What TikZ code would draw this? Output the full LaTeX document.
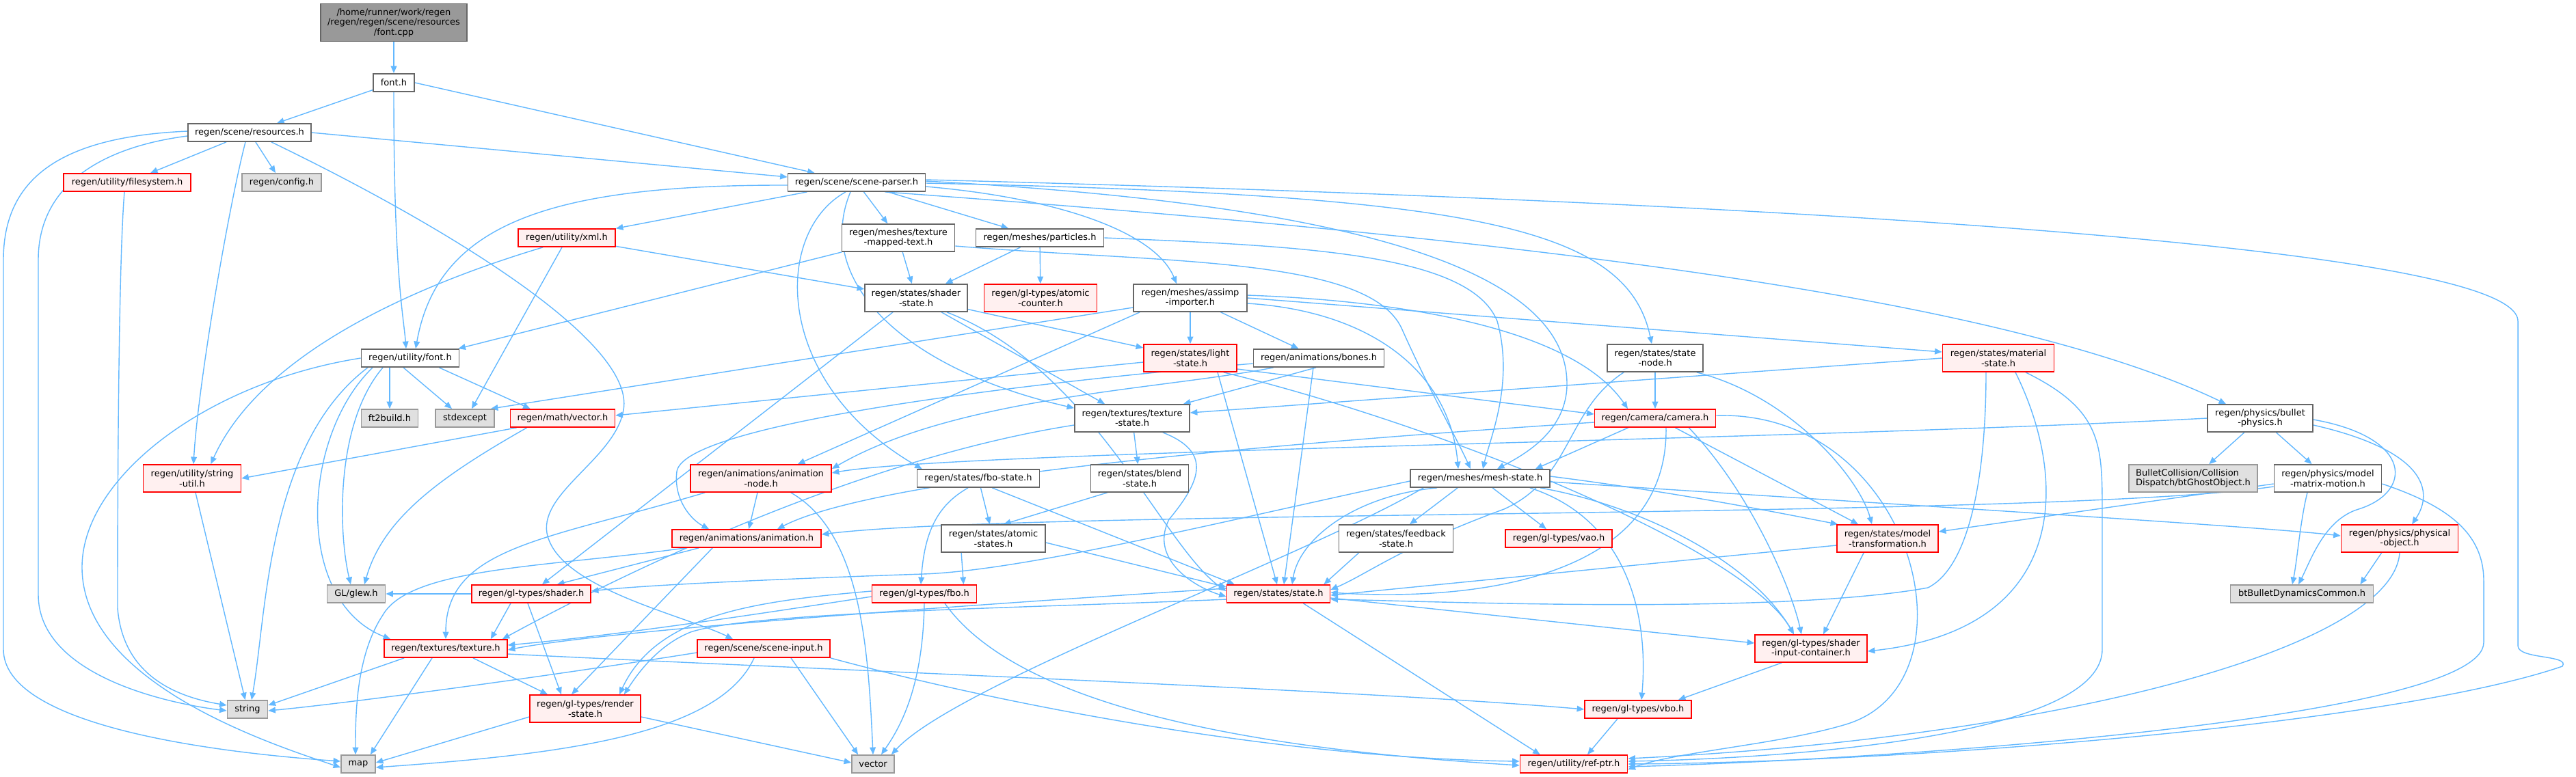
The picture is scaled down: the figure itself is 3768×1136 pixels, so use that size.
\documentclass[tikz,border=0pt]{standalone}
\usepackage{fontspec}
\setmainfont{DejaVu Sans}
\usetikzlibrary{arrows.meta,calc,backgrounds}
\definecolor{eblue}{HTML}{63B8FF}
\definecolor{redfill}{HTML}{FFF0F0}
\definecolor{extfill}{HTML}{E0E0E0}
\definecolor{grey40}{HTML}{666666}
\definecolor{grey60}{HTML}{999999}
\begin{document}
\begin{tikzpicture}[x=0.02cm,y=-0.02cm,
 nbox/.style={draw, rectangle, line width=1pt, inner sep=1pt, align=center, font=\fontsize{7.4}{8.3}\selectfont, text=black},
 wnode/.style={nbox, draw=grey40, fill=white},
 rnode/.style={nbox, draw=red, fill=redfill},
 xnode/.style={nbox, draw=grey60, fill=extfill},
 rootnode/.style={nbox, draw=grey40, fill=grey60},
 one/.style={minimum height=0.52cm},
 two/.style={minimum height=0.80cm},
 conn/.style={draw=eblue, line width=0.8pt, -{Triangle[length=6pt,width=5pt]}},
]
\useasboundingbox (0,0) rectangle (3768,1136);
% ---------------- nodes ----------------
\node[rootnode,minimum width=4.28cm,minimum height=1.10cm] (fontcpp) at (576,33) {/home/runner/work/regen\\/regen/regen/scene/resources\\/font.cpp};
\node[wnode,one,minimum width=1.20cm] (fonth) at (576,121) {font.h};
\node[wnode,one,minimum width=3.60cm] (resources) at (365,194) {regen/scene/resources.h};
\node[rnode,one,minimum width=3.72cm] (filesystem) at (186,267) {regen/utility/filesystem.h};
\node[xnode,one,minimum width=2.32cm] (config) at (412,267) {regen/config.h};
\node[wnode,one,minimum width=4.02cm] (sceneparser) at (1253,267) {regen/scene/scene-parser.h};
\node[rnode,one,minimum width=2.84cm] (xml) at (829,348) {regen/utility/xml.h};
\node[wnode,two,minimum width=3.30cm] (texmapped) at (1314,348) {regen/meshes/texture\\-mapped-text.h};
\node[wnode,one,minimum width=3.74cm] (particles) at (1521,348) {regen/meshes/particles.h};
\node[wnode,two,minimum width=3.00cm] (shaderstate) at (1340,436) {regen/states/shader\\-state.h};
\node[rnode,two,minimum width=3.30cm] (atomiccounter) at (1522,436) {regen/gl-types/atomic\\-counter.h};
\node[wnode,two,minimum width=3.32cm] (assimp) at (1741,436) {regen/meshes/assimp\\-importer.h};
\node[wnode,one,minimum width=2.86cm] (ufont) at (600,524) {regen/utility/font.h};
\node[rnode,two,minimum width=2.72cm] (lightstate) at (1741,524) {regen/states/light\\-state.h};
\node[wnode,one,minimum width=3.82cm] (bones) at (1929,524) {regen/animations/bones.h};
\node[wnode,two,minimum width=2.80cm] (statenode) at (2421,524) {regen/states/state\\-node.h};
\node[rnode,two,minimum width=3.26cm] (material) at (2923,524) {regen/states/material\\-state.h};
\node[xnode,one,minimum width=1.66cm] (ft2build) at (570,612) {ft2build.h};
\node[xnode,one,minimum width=1.72cm] (stdexcept) at (680,612) {stdexcept};
\node[rnode,one,minimum width=3.06cm] (mathvector) at (823,612) {regen/math/vector.h};
\node[wnode,two,minimum width=3.36cm] (texstate) at (1656,612) {regen/textures/texture\\-state.h};
\node[rnode,one,minimum width=3.54cm] (camera) at (2421,612) {regen/camera/camera.h};
\node[wnode,two,minimum width=3.08cm] (bulletphys) at (3306,612) {regen/physics/bullet\\-physics.h};
\node[rnode,two,minimum width=2.86cm] (stringutil) at (281,700) {regen/utility/string\\-util.h};
\node[rnode,two,minimum width=4.12cm] (animnode) at (1113,700) {regen/animations/animation\\-node.h};
\node[wnode,one,minimum width=3.58cm] (fbostate) at (1431,700) {regen/states/fbo-state.h};
\node[wnode,two,minimum width=2.86cm] (blendstate) at (1667,700) {regen/states/blend\\-state.h};
\node[wnode,one,minimum width=4.08cm] (meshstate) at (2165,700) {regen/meshes/mesh-state.h};
\node[xnode,two,minimum width=3.76cm,align=left] (btghost) at (3208,700) {BulletCollision/Collision\\Dispatch/btGhostObject.h};
\node[wnode,two,minimum width=3.14cm] (modelmatrix) at (3405,700) {regen/physics/model\\-matrix-motion.h};
\node[rnode,one,minimum width=4.36cm] (animation) at (1092,788) {regen/animations/animation.h};
\node[wnode,two,minimum width=3.04cm] (atomicstates) at (1453,788) {regen/states/atomic\\-states.h};
\node[wnode,two,minimum width=3.34cm] (feedback) at (2042,788) {regen/states/feedback\\-state.h};
\node[rnode,one,minimum width=3.12cm] (vao) at (2280,788) {regen/gl-types/vao.h};
\node[rnode,two,minimum width=2.96cm] (modeltrans) at (2761,788) {regen/states/model\\-transformation.h};
\node[rnode,two,minimum width=3.42cm] (physobj) at (3510,788) {regen/physics/physical\\-object.h};
\node[xnode,one,minimum width=1.70cm] (glew) at (521,869) {GL/glew.h};
\node[rnode,one,minimum width=3.48cm] (shader) at (777,869) {regen/gl-types/shader.h};
\node[rnode,one,minimum width=3.06cm] (glfbo) at (1352,869) {regen/gl-types/fbo.h};
\node[rnode,one,minimum width=3.02cm] (state) at (1870,869) {regen/states/state.h};
\node[xnode,one,minimum width=4.18cm] (btbullet) at (3367,869) {btBulletDynamicsCommon.h};
\node[rnode,one,minimum width=3.60cm] (texture) at (652,949) {regen/textures/texture.h};
\node[rnode,one,minimum width=3.88cm] (scenein) at (1117,949) {regen/scene/scene-input.h};
\node[rnode,two,minimum width=3.28cm] (shaderinput) at (2649,949) {regen/gl-types/shader\\-input-container.h};
\node[xnode,one,minimum width=1.18cm] (string) at (362,1038) {string};
\node[rnode,two,minimum width=3.24cm] (renderstate) at (856,1037) {regen/gl-types/render\\-state.h};
\node[rnode,one,minimum width=3.12cm] (vbo) at (2396,1038) {regen/gl-types/vbo.h};
\node[xnode,one,minimum width=1.00cm] (map) at (524,1118) {map};
\node[xnode,one,minimum width=1.24cm] (vector) at (1277,1118) {vector};
\node[rnode,one,minimum width=3.14cm] (refptr) at (2302,1118) {regen/utility/ref-ptr.h};
% ---------------- connectors ----------------
\begin{scope}[on background layer]
% straight
\draw[conn] (fontcpp) -- (fonth);
\draw[conn] (fonth) -- (resources);
\draw[conn] (fonth.east) -- ($(sceneparser.north west)+(40,0)$);
\draw[conn] (resources) -- (filesystem);
\draw[conn] (resources) -- (config);
\draw[conn] (resources.east) -- ($(sceneparser.west)+(0,-8)$);
\draw[conn] (sceneparser) -- (xml);
\draw[conn] (sceneparser) -- (texmapped);
\draw[conn] (sceneparser) -- (particles);
\draw[conn] (xml) -- (shaderstate);
\draw[conn] ($(xml.south)+(-7,0)$) -- ($(stdexcept.north)+(10,0)$);
\draw[conn] (texmapped) -- (shaderstate);
\draw[conn] (texmapped) -- ($(ufont.north east)+(-2,0)$);
\draw[conn] (particles) -- (shaderstate);
\draw[conn] (particles) -- (atomiccounter);
\draw[conn] (shaderstate) -- (lightstate);
\draw[conn] (shaderstate) -- ($(texstate.north)+(-40,0)$);
\draw[conn] ($(shaderstate.south)+(-34,0)$) -- ($(shader.north)+(16,0)$);
\draw[conn] (assimp) -- (lightstate);
\draw[conn] (assimp) -- (bones);
\draw[conn] (assimp.east) -- ($(material.west)+(0,-9)$);
\draw[conn] ($(assimp.south west)+(10,0)$) -- ($(animnode.north east)+(-50,0)$);
\draw[conn] ($(assimp.west)+(0,14)$) -- ($(stdexcept.north east)+(-6,0)$);
\draw[conn] ($(ufont.south)+(-30,0)$) -- (ft2build);
\draw[conn] ($(ufont.south)+(-10,0)$) -- ($(stdexcept.north)+(-19,0)$);
\draw[conn] ($(ufont.south east)+(-30,0)$) -- ($(mathvector.north west)+(30,0)$);
\draw[conn] ($(lightstate.west)+(0,6)$) -- ($(mathvector.east)+(0,-4)$);
\draw[conn] ($(lightstate.east)+(0,16)$) -- ($(camera.west)+(0,-6)$);
\draw[conn] ($(bones.south)+(-4,0)$) -- ($(texstate.north east)+(-10,0)$);
\draw[conn] ($(bones.south)+(-8,0)$) -- ($(state.north)+(8,0)$);
\draw[conn] ($(lightstate.south)+(40,0)$) -- ($(state.north)+(-2,0)$);
\draw[conn] (statenode) -- (camera);
\draw[conn] (material.west) -- ($(texstate.east)+(0,-8)$);
\draw[conn] (bulletphys) -- (btghost);
\draw[conn] (bulletphys) -- (modelmatrix);
\draw[conn] (texstate) -- (blendstate);
\draw[conn] ($(camera.south west)+(50,0)$) -- ($(meshstate.north east)+(-22,0)$);
\draw[conn] ($(camera.south east)+(-60,0)$) -- ($(modeltrans.north)+(-43,0)$);
\draw[conn] (stringutil) -- (string);
\draw[conn] (animnode) -- (animation);
\draw[conn] (fbostate) -- (atomicstates);
\draw[conn] ($(fbostate.south east)+(-70,0)$) -- ($(state.north west)+(12,0)$);
\draw[conn] ($(blendstate.south west)+(25,0)$) -- ($(atomicstates.north)+(15,0)$);
\draw[conn] ($(meshstate.south west)+(70,0)$) -- ($(feedback.north)+(20,0)$);
\draw[conn] (meshstate) -- (vao);
\draw[conn] ($(modelmatrix.west)+(0,8)$) -- ($(modeltrans.east)+(0,-10)$);
\draw[conn] ($(animation.south west)+(40,0)$) -- ($(shader.north east)+(-50,0)$);
\draw[conn] ($(animation.south west)+(60,0)$) -- ($(renderstate.north)+(-20,0)$);
\draw[conn] ($(atomicstates.south west)+(30,0)$) -- ($(glfbo.north east)+(-20,0)$);
\draw[conn] ($(atomicstates.east)+(0,6)$) -- ($(state.west)+(0,-10)$);
\draw[conn] ($(feedback.south west)+(30,0)$) -- ($(state.north east)+(-10,0)$);
\draw[conn] ($(modeltrans.west)+(0,10)$) -- ($(state.east)+(0,2)$);
\draw[conn] ($(modeltrans.south west)+(40,0)$) -- ($(shaderinput.north)+(18,0)$);
\draw[conn] ($(physobj.south west)+(60,0)$) -- ($(btbullet.north east)+(-20,0)$);
\draw[conn] (shader.west) -- (glew.east);
\draw[conn] ($(shader.south)+(-30,0)$) -- ($(texture.north east)+(-25,0)$);
\draw[conn] ($(shader.south)+(-5,0)$) -- ($(renderstate.north)+(-35,0)$);
\draw[conn] ($(state.east)+(0,6)$) -- ($(shaderinput.west)+(0,-8)$);
\draw[conn] ($(state.south east)+(-40,0)$) -- ($(refptr.north west)+(30,0)$);
\draw[conn] ($(texture.south west)+(30,0)$) -- ($(string.east)+(0,-6)$);
\draw[conn] ($(texture.south)+(-20,0)$) -- ($(map.north east)+(-8,0)$);
\draw[conn] ($(texture.south)+(40,0)$) -- ($(renderstate.north)+(-55,0)$);
\draw[conn] ($(scenein.south)+(40,0)$) -- ($(vector.north west)+(10,0)$);
\draw[conn] ($(shaderinput.south west)+(40,0)$) -- ($(vbo.north east)+(-20,0)$);
\draw[conn] ($(renderstate.west)+(0,12)$) -- ($(map.east)+(0,-2)$);
\draw[conn] ($(renderstate.east)+(0,12)$) -- ($(vector.west)+(0,-2)$);
\draw[conn] ($(vbo.south)+(-30,0)$) -- ($(refptr.north)+(20,0)$);
\draw[conn] ($(mathvector.south west)+(10,0)$) -- (stringutil.east);
\draw[conn] ($(filesystem.south)+(-4,0)$) .. controls (172,400) and (172,820) .. (172,890) .. controls (180,990) and (260,1020) .. ($(string.west)+(0,-6)$);
% curved
\draw[conn] (fonth) .. controls (576,400) and (590,460) .. ($(ufont.north)+(-6,0)$);
\draw[conn] ($(resources.south)+(-6,0)$) .. controls (335,300) and (290,560) .. ($(stringutil.north)+(2,0)$);
\draw[conn] ($(resources.west)+(0,5)$) .. controls (150,215) and (56,270) .. (56,380) -- (56,870) .. controls (56,990) and (250,1030) .. ($(string.west)+(0,2)$);
\draw[conn] ($(resources.west)+(0,-2)$) .. controls (90,200) and (5,260) .. (5,380) -- (5,950) .. controls (5,1060) and (300,1100) .. ($(map.west)+(0,-4)$);
\draw[conn] ($(resources.south)+(32,0)$) .. controls (650,330) and (930,500) .. (912,600) .. controls (900,670) and (790,720) .. (800,780) .. controls (815,860) and (1000,900) .. ($(scenein.north)+(-45,0)$);
\draw[conn] ($(sceneparser.east)+(0,6)$) .. controls (1550,290) and (1690,340) .. ($(assimp.north)+(-20,0)$);
\draw[conn] ($(sceneparser.west)+(0,4)$) .. controls (800,270) and (640,330) .. ($(ufont.north)+(8,0)$);
\draw[conn] ($(sceneparser.east)+(0,1)$) .. controls (2150,285) and (2380,330) .. ($(statenode.north)+(-5,0)$);
\draw[conn] ($(sceneparser.south east)+(-60,0)$) .. controls (2100,340) and (2900,420) .. ($(bulletphys.north)+(-50,0)$);
\draw[conn] ($(sceneparser.south)+(-9,0)$) .. controls (1190,410) and (1320,540) .. ($(texstate.north west)+(0,6)$);
\draw[conn] ($(sceneparser.south)+(-16,0)$) .. controls (1130,340) and (1130,560) .. ($(fbostate.north west)+(8,0)$);
\draw[conn] ($(sceneparser.east)+(0,-2)$) .. controls (2000,300) and (2290,400) .. (2292,560) .. controls (2293,630) and (2230,665) .. ($(meshstate.north)+(25,0)$);
\draw[conn] ($(sceneparser.east)+(0,-4)$) .. controls (2400,290) and (3683,350) .. (3683,470) -- (3683,945) .. controls (3683,965) and (3760,958) .. (3748,975) .. controls (3500,1060) and (2800,1115) .. (refptr.east);
\draw[conn] ($(texmapped.east)+(0,12)$) .. controls (1700,385) and (2000,375) .. (2050,480) .. controls (2090,570) and (2130,640) .. ($(meshstate.north)+(-14,0)$);
\draw[conn] (particles.east) .. controls (1900,360) and (2150,370) .. (2190,470) .. controls (2215,560) and (2180,640) .. ($(meshstate.north)+(4,0)$);
\draw[conn] ($(assimp.east)+(0,8)$) .. controls (2000,455) and (2120,540) .. ($(meshstate.north)+(-32,0)$);
\draw[conn] ($(assimp.east)+(0,-4)$) .. controls (2050,440) and (2300,480) .. ($(camera.north)+(-40,0)$);
\draw[conn] ($(shaderstate.south)+(45,0)$) .. controls (1600,540) and (1700,800) .. ($(state.west)+(0,-4)$);
\draw[conn] ($(ufont.south)+(-40,0)$) .. controls (490,620) and (495,780) .. ($(glew.north)+(-8,0)$);
\draw[conn] ($(mathvector.south west)+(25,0)$) .. controls (640,700) and (560,760) .. ($(glew.north)+(12,0)$);
\draw[conn] ($(ufont.south)+(-55,0)$) .. controls (440,640) and (430,880) .. ($(texture.north west)+(10,0)$);
\draw[conn] ($(ufont.south)+(-62,0)$) .. controls (390,650) and (390,900) .. ($(string.north)+(6,0)$);
\draw[conn] (ufont.west) .. controls (300,560) and (120,700) .. (120,830) .. controls (120,1000) and (400,1090) .. ($(map.west)+(0,5)$);
\draw[conn] ($(xml.south west)+(37,0)$) .. controls (600,420) and (380,520) .. ($(stringutil.north east)+(-45,0)$);
\draw[conn] ($(lightstate.south east)+(-20,0)$) .. controls (2100,620) and (2550,800) .. ($(shaderinput.north)+(-25,0)$);
\draw[conn] ($(statenode.south east)+(-10,0)$) .. controls (2620,580) and (2720,700) .. ($(modeltrans.north)+(-23,0)$);
\draw[conn] ($(statenode.south west)+(25,0)$) .. controls (2290,600) and (2300,700) .. (2200,745) .. controls (2050,800) and (2000,840) .. ($(state.east)+(0,-6)$);
\draw[conn] ($(material.south)+(-18,0)$) .. controls (2905,700) and (2880,830) .. (2820,860) .. controls (2600,900) and (2100,880) .. ($(state.east)+(0,8)$);
\draw[conn] ($(material.south)+(25,0)$) .. controls (3025,700) and (3030,920) .. ($(shaderinput.east)+(0,4)$);
\draw[conn] ($(material.south)+(40,0)$) .. controls (3075,600) and (3075,650) .. (3075,750) -- (3075,950) .. controls (3075,1080) and (2600,1110) .. ($(refptr.east)+(0,-4)$);
\draw[conn] ($(bulletphys.east)+(0,10)$) .. controls (3550,660) and (3560,720) .. ($(physobj.north)+(18,0)$);
\draw[conn] ($(bulletphys.east)+(0,2)$) .. controls (3530,640) and (3530,720) .. (3450,745) .. controls (3400,760) and (3380,820) .. ($(btbullet.north)+(-5,0)$);
\draw[conn] ($(modelmatrix.south)+(-30,0)$) .. controls (3365,760) and (3360,820) .. ($(btbullet.north)+(-14,0)$);
\draw[conn] ($(modelmatrix.east)+(0,8)$) .. controls (3580,740) and (3633,780) .. (3633,850) -- (3633,940) .. controls (3633,1050) and (2800,1110) .. ($(refptr.east)+(0,4)$);
\draw[conn] (physobj.south) .. controls (3500,950) and (3000,1080) .. ($(refptr.east)+(0,-8)$);
\draw[conn] (bulletphys.west) .. controls (2600,645) and (1400,660) .. ($(animnode.east)+(0,-8)$);
\draw[conn] ($(modelmatrix.west)+(0,12)$) .. controls (3000,760) and (1500,745) .. ($(animation.east)+(0,-6)$);
\draw[conn] ($(texstate.south east)+(-40,0)$) .. controls (1770,660) and (1760,700) .. (1710,760) .. controls (1680,820) and (1750,860) .. ($(state.west)+(0,4)$);
\draw[conn] ($(texstate.west)+(0,10)$) .. controls (1200,680) and (800,900) .. ($(texture.north east)+(-8,0)$);
\draw[conn] ($(camera.south east)+(-40,0)$) .. controls (2560,720) and (2620,860) .. ($(shaderinput.north)+(-14,0)$);
\draw[conn] ($(camera.south)+(16,0)$) .. controls (2440,850) and (2150,880) .. ($(state.east)+(0,-2)$);
\draw[conn] ($(camera.west)+(0,6)$) .. controls (2000,640) and (1300,690) .. ($(animation.north)+(45,0)$);
\draw[conn] ($(bones.west)+(0,8)$) .. controls (1500,560) and (1000,620) .. (990,690) .. controls (985,730) and (1010,760) .. ($(animation.north)+(-55,0)$);
\draw[conn] ($(bones.south west)+(30,0)$) .. controls (1700,570) and (1400,580) .. ($(animnode.east)+(0,-14)$);
\draw[conn] ($(animnode.south east)+(-60,0)$) .. controls (1260,780) and (1270,950) .. (vector.north);
\draw[conn] ($(animnode.south west)+(22,0)$) .. controls (800,790) and (652,800) .. (texture.north);
\draw[conn] ($(meshstate.south east)+(-30,0)$) .. controls (2380,760) and (2412,900) .. ($(vbo.north)+(5,0)$);
\draw[conn] ($(meshstate.south east)+(-15,0)$) .. controls (2400,740) and (2560,820) .. ($(shaderinput.north)+(-25,0)$);
\draw[conn] ($(meshstate.east)+(0,5)$) .. controls (2800,740) and (3300,770) .. ($(physobj.west)+(0,-4)$);
\draw[conn] ($(meshstate.east)+(0,-3)$) .. controls (2450,720) and (2600,750) .. ($(modeltrans.north west)+(2,0)$);
\draw[conn] ($(meshstate.west)+(0,4)$) .. controls (1800,760) and (1500,835) .. (1350,840) .. controls (1200,845) and (950,855) .. ($(shader.east)+(0,-4)$);
\draw[conn] ($(meshstate.south west)+(20,0)$) .. controls (1900,820) and (1400,1000) .. ($(vector.north east)+(-5,0)$);
\draw[conn] ($(meshstate.south west)+(40,0)$) .. controls (1980,725) and (1900,790) .. ($(state.north)+(20,0)$);
\draw[conn] ($(animation.south west)+(20,0)$) .. controls (800,830) and (600,830) .. (560,900) .. controls (520,960) and (520,1050) .. ($(map.north)+(-4,0)$);
\draw[conn] ($(fbostate.south)+(-15,0)$) .. controls (1370,740) and (1352,780) .. ($(glfbo.north)+(-5,0)$);
\draw[conn] (glfbo.south) .. controls (1350,1000) and (1320,1060) .. ($(vector.north)+(12,0)$);
\draw[conn] ($(glfbo.south)+(30,0)$) .. controls (1500,1050) and (1900,1100) .. ($(refptr.west)+(0,2)$);
\draw[conn] ($(glfbo.west)+(0,4)$) .. controls (1100,900) and (900,930) .. ($(texture.east)+(0,-5)$);
\draw[conn] ($(glfbo.west)+(0,-4)$) .. controls (1100,880) and (960,900) .. ($(renderstate.north)+(50,0)$);
\draw[conn] ($(state.west)+(0,8)$) .. controls (1500,890) and (1100,895) .. (1010,925) .. controls (960,945) and (930,990) .. ($(renderstate.north east)+(-25,0)$);
\draw[conn] ($(state.west)+(0,-8)$) .. controls (1500,880) and (900,920) .. ($(texture.east)+(0,2)$);
\draw[conn] ($(texture.east)+(0,8)$) .. controls (1200,980) and (2000,1010) .. (vbo.west);
\draw[conn] (scenein.south east) .. controls (1500,1040) and (1900,1110) .. ($(refptr.west)+(0,-4)$);
\draw[conn] ($(scenein.west)+(0,6)$) .. controls (800,990) and (500,1030) .. ($(string.east)+(0,2)$);
\draw[conn] ($(scenein.south)+(-14,0)$) .. controls (1050,1080) and (800,1105) .. ($(map.east)+(0,5)$);
\draw[conn] ($(camera.east)+(0,-4)$) .. controls (2800,600) and (2900,1000) .. (2700,1060) .. controls (2600,1090) and (2450,1100) .. ($(refptr.east)+(0,8)$);
\end{scope}
\end{tikzpicture}
\end{document}
